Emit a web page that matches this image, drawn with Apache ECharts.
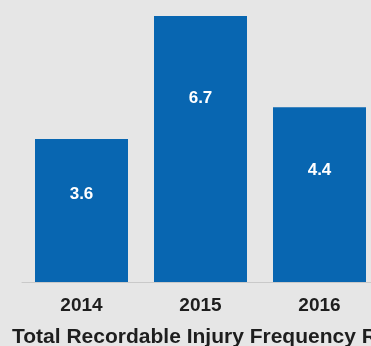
<!DOCTYPE html>
<html>
<head>
<meta charset="utf-8">
<script src="https://cdn.jsdelivr.net/npm/echarts@6/dist/echarts.min.js"></script>
<style>
html,body{margin:0;padding:0;background:#e6e6e6;}
#c{width:371px;height:346px;}
</style>
</head>
<body>
<div id="c"></div>
<script>
const categories = ['2014', '2015', '2016'];
const values = [3.6, 6.7, 4.4];
const chartTitle = 'Total Recordable Injury Frequency Rate';

// label vertical placement within each bar (style, not data)
const labelPos = ['39%', '31%', '36%'];

const chart = echarts.init(document.getElementById('c'), null, {renderer: 'canvas'});
chart.setOption({
  backgroundColor: '#e6e6e6',
  animation: false,
  title: {
    text: chartTitle,
    left: 12,
    top: 327,
    padding: 0,
    textStyle: {fontFamily: 'Liberation Sans, Arial', fontWeight: 'bold', fontSize: 21, color: '#1e1e1e'}
  },
  grid: {left: 22, width: 357, top: 4, height: 278, outerBoundsMode: 'none', containLabel: false},
  xAxis: {
    type: 'category',
    data: categories,
    axisLine: {show: true, lineStyle: {color: '#c9c9c9', width: 1}},
    axisTick: {show: false},
    axisLabel: {margin: 14, fontFamily: 'Liberation Sans, Arial', fontWeight: 'bold', fontSize: 19, color: '#1e1e1e'}
  },
  yAxis: {
    type: 'value', min: 0, max: 7, show: false,
    splitLine: {show: false}
  },
  series: [{
    type: 'bar',
    barWidth: 93,
    itemStyle: {color: '#0866b1'},
    data: values.map((v, i) => ({
      value: v,
      label: {position: ['50%', labelPos[i]]}
    })),
    label: {
      show: true,
      align: 'center',
      verticalAlign: 'middle',
      color: '#ffffff',
      fontFamily: 'Liberation Sans, Arial',
      fontWeight: 'bold',
      fontSize: 17,
      formatter: p => p.value.toFixed(1)
    }
  }]
});
</script>
</body>
</html>
